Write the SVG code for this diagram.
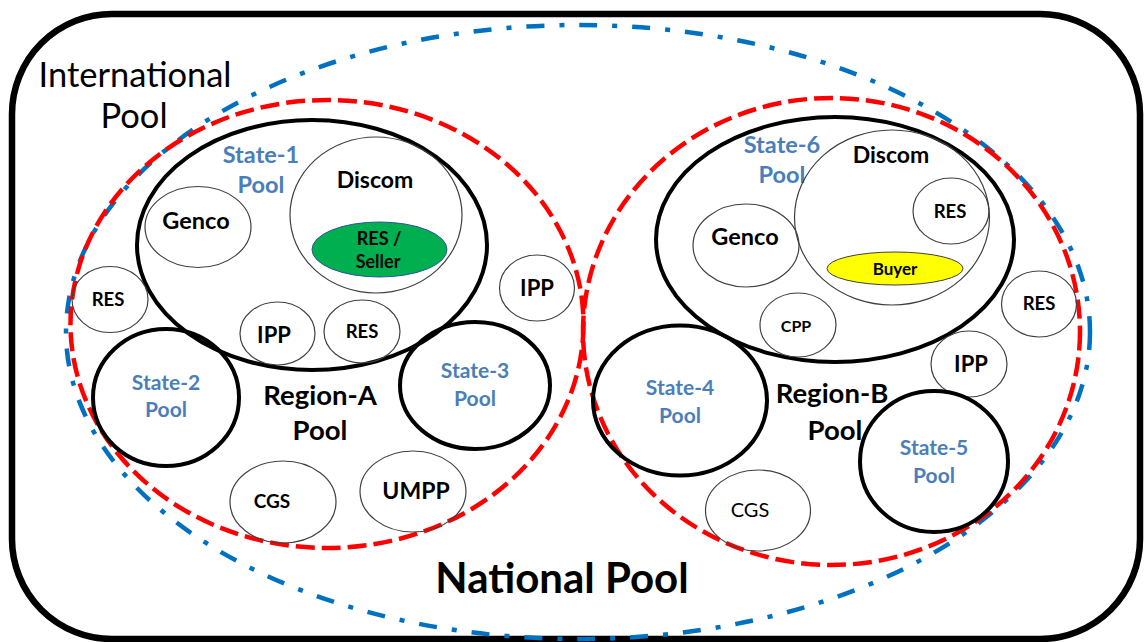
<svg xmlns="http://www.w3.org/2000/svg" width="1145" height="642" viewBox="0 0 1145 642">
  <style>
    text { font-family: Lato, "Liberation Sans", sans-serif; text-anchor: middle; fill: #000; }
    .b { font-weight: bold; }
    .blue { fill: #4A7EBB; font-weight: bold; font-size: 21px; }
    .blue-lg { fill: #4A7EBB; font-weight: bold; font-size: 23.5px; }
    .thin { fill: none; stroke: #404040; stroke-width: 1.2; }
    .thick { fill: none; stroke: #000; stroke-width: 4; }
    .red { fill: none; stroke: #FF0000; stroke-width: 4.5; stroke-dasharray: 19 7; }
    .intl { fill: none; stroke: #0070C0; stroke-width: 4.5; stroke-dasharray: 18 15 5 15; }
  </style>

  <rect width="1145" height="642" fill="#fff"/>

  <!-- outer frame -->
  <g id="frame">
    <rect x="12" y="14" width="1128" height="625" rx="100" ry="100" fill="none" stroke="#000" stroke-width="6.5"/>
  </g>

  <!-- pool boundaries -->
  <g id="international-pool">
    <ellipse cx="578" cy="332" rx="512" ry="307" class="intl"/>
    <text x="135" y="87" font-size="34.5">International</text>
    <text x="134" y="128" font-size="34.5">Pool</text>
  </g>
  <g id="region-a">
    <ellipse cx="327" cy="324" rx="256.5" ry="224" class="red"/>
    <text x="320" y="405" font-size="27.5" class="b">Region-A</text>
    <text x="320" y="440" font-size="27.5" class="b">Pool</text>
  </g>
  <g id="region-b">
    <ellipse cx="831.5" cy="331.5" rx="248.5" ry="233.5" class="red"/>
    <text x="832" y="403" font-size="27.5" class="b">Region-B</text>
    <text x="835" y="440" font-size="27.5" class="b">Pool</text>
  </g>
  <g id="national-pool">
    <text x="562" y="593" font-size="42" class="b">National Pool</text>
  </g>

  <!-- Region A members -->
  <g id="state-1">
    <ellipse cx="312" cy="245" rx="175" ry="125" class="thick"/>
    <text x="261" y="163" class="blue-lg">State-1</text>
    <text x="261" y="193" class="blue-lg">Pool</text>
  </g>
  <g id="s1-genco">
    <ellipse cx="198" cy="227" rx="53" ry="40.5" class="thin"/>
    <text x="196" y="229" font-size="23.5" class="b">Genco</text>
  </g>
  <g id="s1-discom">
    <ellipse cx="376" cy="215" rx="86" ry="78" class="thin"/>
    <text x="375" y="188" font-size="23" class="b">Discom</text>
  </g>
  <g id="s1-seller">
    <ellipse cx="379.5" cy="249.5" rx="67.5" ry="27.5" fill="#00B050" stroke="#2F5597" stroke-width="1"/>
    <text x="379" y="245" font-size="18" class="b">RES /</text>
    <text x="378" y="268" font-size="18" class="b">Seller</text>
  </g>
  <g id="s1-ipp">
    <ellipse cx="277.5" cy="333.5" rx="37.5" ry="31.5" class="thin"/>
    <text x="274" y="343" font-size="22" class="b">IPP</text>
  </g>
  <g id="s1-res">
    <ellipse cx="362" cy="331.5" rx="38" ry="31.5" class="thin"/>
    <text x="362" y="338" font-size="18.5" class="b">RES</text>
  </g>
  <g id="a-res">
    <ellipse cx="110" cy="299.5" rx="38" ry="33" class="thin"/>
    <text x="108" y="306" font-size="18.5" class="b">RES</text>
  </g>
  <g id="a-ipp">
    <ellipse cx="537" cy="288" rx="37.5" ry="33" class="thin"/>
    <text x="537" y="296" font-size="22" class="b">IPP</text>
  </g>
  <g id="state-2">
    <ellipse cx="166" cy="397.5" rx="73" ry="68.5" class="thick"/>
    <text x="166" y="390" class="blue">State-2</text>
    <text x="166" y="417" class="blue">Pool</text>
  </g>
  <g id="state-3">
    <ellipse cx="475" cy="385.5" rx="75" ry="63.5" class="thick"/>
    <text x="475" y="378" class="blue">State-3</text>
    <text x="475" y="406" class="blue">Pool</text>
  </g>
  <g id="a-cgs">
    <ellipse cx="283" cy="502" rx="53" ry="41" class="thin"/>
    <text x="272" y="508" font-size="19" class="b">CGS</text>
  </g>
  <g id="a-umpp">
    <ellipse cx="413" cy="491.5" rx="53" ry="40.5" class="thin"/>
    <text x="416" y="499" font-size="23" class="b">UMPP</text>
  </g>

  <!-- Region B members -->
  <g id="state-6">
    <ellipse cx="835" cy="239.5" rx="179" ry="122.5" class="thick"/>
    <text x="782" y="153" class="blue-lg">State-6</text>
    <text x="782" y="183" class="blue-lg">Pool</text>
  </g>
  <g id="s6-genco">
    <ellipse cx="746" cy="245.5" rx="53" ry="41.5" class="thin"/>
    <text x="745" y="245" font-size="23.5" class="b">Genco</text>
  </g>
  <g id="s6-discom">
    <ellipse cx="892" cy="217.5" rx="97.5" ry="87.5" class="thin"/>
    <text x="891" y="163" font-size="23" class="b">Discom</text>
  </g>
  <g id="s6-res">
    <ellipse cx="951" cy="211" rx="38" ry="33" class="thin"/>
    <text x="950" y="218" font-size="18.5" class="b">RES</text>
  </g>
  <g id="s6-buyer">
    <ellipse cx="895" cy="268.5" rx="68" ry="16.5" fill="#FFFF00" stroke="#404040" stroke-width="1"/>
    <text x="895" y="275" font-size="17" class="b">Buyer</text>
  </g>
  <g id="b-cpp">
    <ellipse cx="798" cy="325" rx="38" ry="32" class="thin"/>
    <text x="796" y="332" font-size="16" class="b">CPP</text>
  </g>
  <g id="b-res">
    <ellipse cx="1039" cy="304" rx="37.5" ry="33" class="thin"/>
    <text x="1039" y="310" font-size="18.5" class="b">RES</text>
  </g>
  <g id="b-ipp">
    <ellipse cx="969" cy="364" rx="38" ry="33" class="thin"/>
    <text x="971" y="372" font-size="22" class="b">IPP</text>
  </g>
  <g id="state-4">
    <ellipse cx="680" cy="400.5" rx="87" ry="75" class="thick"/>
    <text x="680" y="395" class="blue">State-4</text>
    <text x="680" y="423" class="blue">Pool</text>
  </g>
  <g id="state-5">
    <ellipse cx="934" cy="461.5" rx="74" ry="70.5" class="thick"/>
    <text x="934" y="455" class="blue">State-5</text>
    <text x="934" y="483" class="blue">Pool</text>
  </g>
  <g id="b-cgs">
    <ellipse cx="758" cy="510.5" rx="52.5" ry="40.5" class="thin"/>
    <text x="750" y="517" font-size="20">CGS</text>
  </g>

  <!-- this diagram has no connectors -->
  <g id="connectors"></g>
</svg>
